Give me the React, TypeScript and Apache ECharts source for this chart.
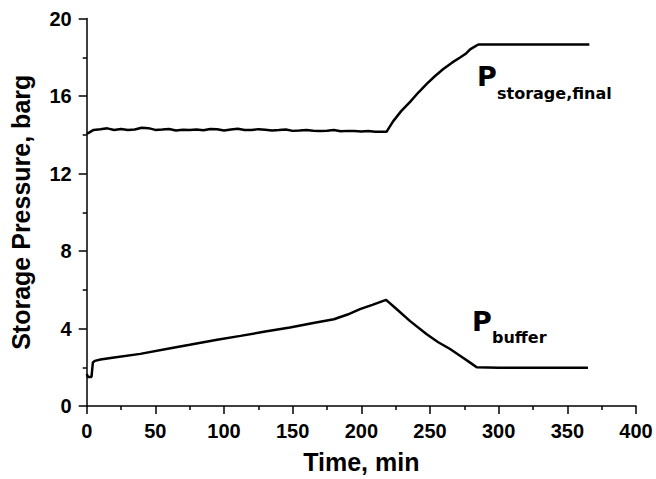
import React, { useEffect, useRef } from "react";
import * as echarts from "echarts";

const storageTime = [0, 2, 5, 10, 15, 20, 25, 30, 35, 40, 45, 50, 55, 60, 65, 70, 75, 80, 85, 90, 95, 100, 105, 110, 115, 120, 125, 130, 135, 140, 145, 150, 155, 160, 165, 170, 175, 180, 185, 190, 195, 200, 205, 210, 215, 218.3, 223.1, 229, 235.5, 241.5, 247.6, 253.5, 259.7, 266, 271.9, 276, 279.2, 282.5, 285.2, 300, 320, 340, 366];
const storageValue = [14.05, 14.12, 14.25, 14.28, 14.33, 14.25, 14.3, 14.24, 14.27, 14.36, 14.34, 14.25, 14.27, 14.3, 14.22, 14.26, 14.24, 14.27, 14.23, 14.3, 14.28, 14.22, 14.27, 14.31, 14.25, 14.24, 14.29, 14.26, 14.22, 14.24, 14.27, 14.2, 14.22, 14.25, 14.21, 14.19, 14.21, 14.24, 14.18, 14.2, 14.19, 14.17, 14.19, 14.16, 14.15, 14.15, 14.69, 15.22, 15.7, 16.18, 16.63, 17.02, 17.39, 17.72, 17.99, 18.18, 18.41, 18.55, 18.66, 18.66, 18.66, 18.66, 18.66];

const bufferTime = [0, 1, 3.5, 4.5, 6, 10, 20, 39, 60, 75, 95, 112, 130, 148, 165, 180, 190, 199, 208, 218, 226, 235.5, 247.6, 256, 264.6, 274, 280, 284, 300, 330, 365];
const bufferValue = [1.65, 1.5, 1.5, 2.25, 2.33, 2.4, 2.5, 2.69, 2.97, 3.16, 3.42, 3.62, 3.84, 4.05, 4.28, 4.48, 4.72, 5.0, 5.22, 5.48, 4.98, 4.38, 3.7, 3.29, 2.94, 2.49, 2.2, 2.0, 1.98, 1.98, 1.98];

const xTitle = "Time, min";
const yTitle = "Storage Pressure, barg";
const storageLabelMain = "P";
const storageLabelSub = "storage,final";
const bufferLabelMain = "P";
const bufferLabelSub = "buffer";

const axisFont = "'Liberation Sans', Arial, sans-serif";
const labelFont = "'DejaVu Sans', Verdana, sans-serif";

export default function App() {
  const ref = useRef<HTMLDivElement>(null);
  useEffect(() => {
    if (!ref.current) return;
    const chart = echarts.init(ref.current, null, { renderer: "svg" });
    const storageData = storageTime.map((t, i) => [t, storageValue[i]]);
    const bufferData = bufferTime.map((t, i) => [t, bufferValue[i]]);
    const axisCommon = {
      axisLine: { show: true, onZero: false, lineStyle: { color: "#000", width: 1.5 } },
      axisTick: { show: true, inside: false, length: 8, lineStyle: { color: "#000", width: 1.5 } },
      minorTick: { show: true, splitNumber: 2, length: 4, lineStyle: { color: "#000", width: 1.5 } },
      splitLine: { show: false },
      axisLabel: { color: "#000", fontWeight: "bold", fontSize: 20, fontFamily: axisFont, margin: 15 },
      nameTextStyle: { color: "#000", fontWeight: "bold", fontSize: 25, fontFamily: axisFont },
    };
    chart.setOption({
      animation: false,
      backgroundColor: "#fff",
      grid: { left: 86.7, right: 20, top: 18.5, bottom: 66 },
      xAxis: {
        type: "value",
        min: 0,
        max: 400,
        interval: 50,
        name: xTitle,
        nameLocation: "middle",
        nameGap: 43,
        ...axisCommon,
      },
      yAxis: {
        type: "value",
        min: 0,
        max: 20,
        interval: 4,
        name: yTitle,
        nameLocation: "middle",
        nameGap: 53,
        ...axisCommon,
      },
      series: [
        {
          type: "line",
          data: storageData,
          showSymbol: false,
          symbol: "none",
          lineStyle: { color: "#000", width: 2.5 },
        },
        {
          type: "line",
          data: bufferData,
          showSymbol: false,
          symbol: "none",
          lineStyle: { color: "#000", width: 2.5 },
        },
      ],
      graphic: [
        {
          type: "text",
          left: 477,
          top: 63,
          style: { text: storageLabelMain, font: `bold 27px ${labelFont}`, fill: "#000" },
        },
        {
          type: "text",
          left: 497,
          top: 85,
          style: { text: storageLabelSub, font: `bold 16px ${labelFont}`, fill: "#000" },
        },
        {
          type: "text",
          left: 472,
          top: 308,
          style: { text: bufferLabelMain, font: `bold 27px ${labelFont}`, fill: "#000" },
        },
        {
          type: "text",
          left: 492,
          top: 329,
          style: { text: bufferLabelSub, font: `bold 16px ${labelFont}`, fill: "#000" },
        },
      ],
    });
    return () => chart.dispose();
  }, []);
  return (
    <div
      ref={ref}
      style={{ position: "fixed", left: 0, top: 0, width: 656, height: 479, background: "#fff" }}
    />
  );
}
